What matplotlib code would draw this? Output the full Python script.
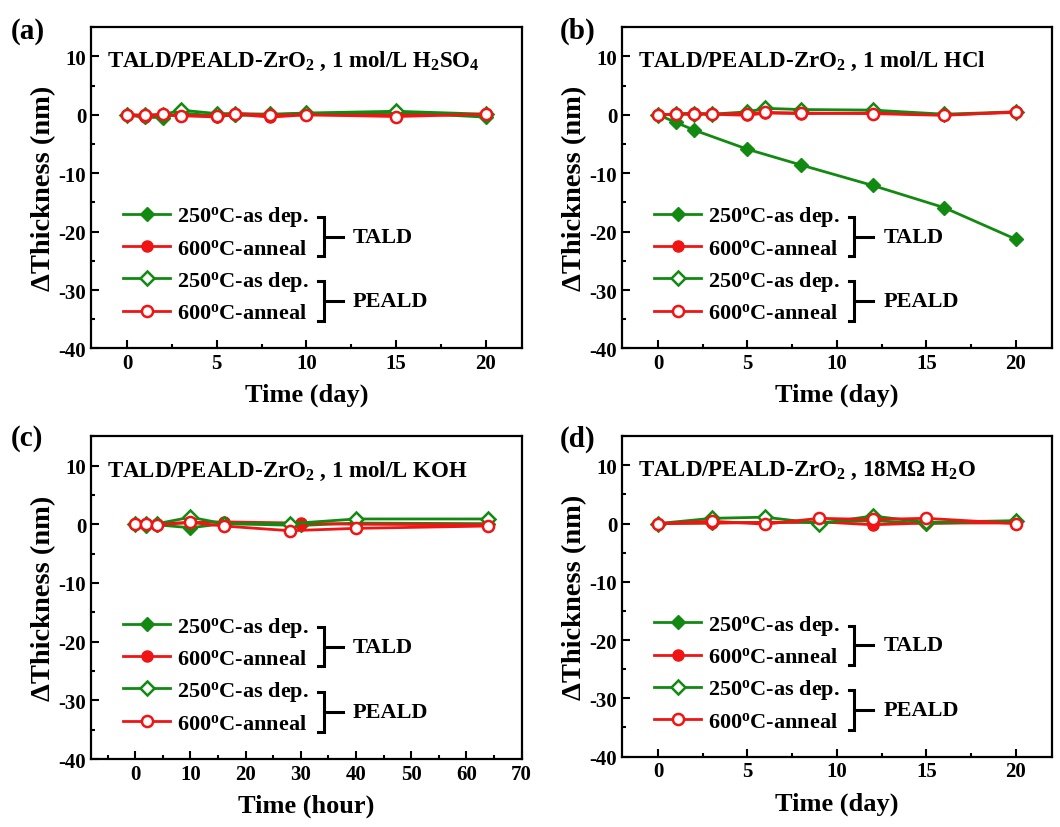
import matplotlib
matplotlib.use('Agg')
import matplotlib.pyplot as plt
from matplotlib.ticker import MultipleLocator

plt.rcParams['font.family'] = ['Liberation Serif', 'DejaVu Serif']
plt.rcParams['font.weight'] = 'bold'
plt.rcParams['axes.unicode_minus'] = False
plt.rcParams['mathtext.fontset'] = 'custom'
plt.rcParams['mathtext.rm'] = 'Liberation Serif:bold'
plt.rcParams['mathtext.bf'] = 'Liberation Serif:bold'
plt.rcParams['mathtext.it'] = 'Liberation Serif:bold'
plt.rcParams['mathtext.default'] = 'bf'

GREEN = '#128a12'
RED = '#f01414'

# (a) 1 mol/L H2SO4, time in days
a_x = [0, 1, 2, 3, 5, 6, 8, 10, 15, 20]
a_tald_250 = [0, -0.4, -0.5, 0.3, -0.2, -0.1, 0.0, 0.2, 0.4, -0.4]
a_tald_600 = [0, -0.4, -0.1, -0.1, -0.4, 0.1, -0.4, 0.0, -0.1, 0.1]
a_peald_250 = [0, -0.1, 0.0, 0.8, 0.2, 0.2, 0.1, 0.3, 0.6, 0.1]
a_peald_600 = [0, -0.1, 0.1, -0.2, -0.2, 0.2, -0.1, 0.0, -0.3, 0.1]

# (b) 1 mol/L HCl, time in days
b_x_tald_250 = [0, 1, 2, 5, 8, 12, 16, 20]
b_tald_250 = [0, -1.3, -2.6, -5.9, -8.6, -12.1, -15.9, -21.3]
b_x = [0, 1, 2, 3, 5, 6, 8, 12, 16, 20]
b_tald_600 = [0, 0.1, 0.3, 0.1, -0.1, 0.3, 0.2, 0.3, 0.0, 0.4]
b_peald_250 = [0, 0.1, 0.2, 0.1, 0.5, 1.1, 0.9, 0.8, 0.1, 0.5]
b_peald_600 = [0, 0.1, 0.1, 0.1, 0.2, 0.4, 0.3, 0.2, -0.1, 0.5]

# (c) 1 mol/L KOH, time in hours
c_x_tald = [0, 2, 4, 10, 16, 30, 40, 64]
c_tald_250 = [0, -0.3, -0.1, -0.6, 0.1, -0.2, 0.2, 0.1]
c_tald_600 = [0, 0.0, 0.1, 0.3, 0.4, 0.2, 0.0, -0.1]
c_x_peald = [0, 2, 4, 10, 16, 28, 40, 64]
c_peald_250 = [0, 0.0, 0.1, 1.2, 0.1, 0.1, 0.9, 0.9]
c_peald_600 = [0, 0.1, -0.1, 0.3, -0.3, -1.1, -0.7, -0.3]

# (d) 18 MOhm H2O, time in days
d_x = [0, 3, 6, 9, 12, 15, 20]
d_tald_250 = [0, 0.1, 0.2, 0.2, 0.5, 0.0, 0.4]
d_tald_600 = [0, 0.1, 0.2, 0.3, -0.2, 0.1, 0.1]
d_peald_250 = [0, 0.9, 1.1, 0.0, 1.3, 0.2, 0.5]
d_peald_600 = [0, 0.4, -0.1, 0.9, 0.7, 0.9, 0.0]

panels = [
    ('(a)', 'TALD/PEALD-ZrO$_2$ , 1 mol/L H$_2$SO$_4$', 'Time (day)',
     (a_x, a_tald_250), (a_x, a_tald_600), (a_x, a_peald_250), (a_x, a_peald_600)),
    ('(b)', 'TALD/PEALD-ZrO$_2$ , 1 mol/L HCl', 'Time (day)',
     (b_x_tald_250, b_tald_250), (b_x, b_tald_600), (b_x, b_peald_250), (b_x, b_peald_600)),
    ('(c)', 'TALD/PEALD-ZrO$_2$ , 1 mol/L KOH', 'Time (hour)',
     (c_x_tald, c_tald_250), (c_x_tald, c_tald_600), (c_x_peald, c_peald_250), (c_x_peald, c_peald_600)),
    ('(d)', 'TALD/PEALD-ZrO$_2$ , 18M\u03a9 H$_2$O', 'Time (day)',
     (d_x, d_tald_250), (d_x, d_tald_600), (d_x, d_peald_250), (d_x, d_peald_600)),
]

# axes boxes in figure fractions
boxes = [
    [0.086, 0.578, 0.406, 0.388],
    [0.587, 0.578, 0.405, 0.388],
    [0.086, 0.082, 0.406, 0.390],
    [0.587, 0.085, 0.405, 0.387],
]
letter_pos = [(0.010, 0.962), (0.528, 0.962), (0.010, 0.470), (0.528, 0.470)]

fig = plt.figure(figsize=(10.6, 8.28), dpi=100)

for i, (letter, title, xlabel, s1, s2, s3, s4) in enumerate(panels):
    ax = fig.add_axes(boxes[i])
    lab250 = '250$^{o}$C-as dep.'
    lab600 = '600$^{o}$C-anneal'
    ax.plot(*s1, color=GREEN, lw=2, marker='D', ms=7, mfc=GREEN, mec=GREEN, label=lab250)
    ax.plot(*s2, color=RED, lw=2, marker='o', ms=8, mfc=RED, mec=RED, label=lab600)
    ax.plot(*s3, color=GREEN, lw=2, marker='D', ms=7, mfc='white', mec=GREEN, mew=1.8, label=lab250)
    ax.plot(*s4, color=RED, lw=2, marker='o', ms=8, mfc='white', mec=RED, mew=1.8, label=lab600)

    ax.set_ylim(-40, 15)
    ax.yaxis.set_major_locator(MultipleLocator(10))
    ax.yaxis.set_minor_locator(MultipleLocator(5))
    if i == 2:
        ax.set_xlim(-8, 70)
        ax.xaxis.set_major_locator(MultipleLocator(10))
        ax.xaxis.set_minor_locator(MultipleLocator(5))
    else:
        ax.set_xlim(-2, 22)
        ax.xaxis.set_major_locator(MultipleLocator(5))
        ax.xaxis.set_minor_locator(MultipleLocator(2.5))
    ax.tick_params(which='both', direction='in', labelsize=15, width=1.5)
    ax.tick_params(which='major', length=6)
    ax.tick_params(which='minor', length=3)
    for lab in ax.get_xticklabels() + ax.get_yticklabels():
        lab.set_fontweight('bold')
    for sp in ax.spines.values():
        sp.set_linewidth(1.6)

    ax.set_xlabel(xlabel, fontsize=19, fontweight='bold', labelpad=7)
    ax.set_ylabel('\u0394Thickness (nm)', fontsize=20.5, fontweight='bold', labelpad=2)
    ax.text(0.037, 0.895, title, transform=ax.transAxes, fontsize=16.5,
            fontweight='bold', va='center', ha='left')

    leg = ax.legend(loc='center left', bbox_to_anchor=(0.075, 0.263), frameon=False,
                    fontsize=16, handlelength=2.1, handletextpad=0.3,
                    labelspacing=0.45, borderpad=0, borderaxespad=0)
    for t in leg.get_texts():
        t.set_fontweight('bold')

    # group brackets
    bx = 0.54
    for (y0, y1), name in [((0.287, 0.408), 'TALD'), ((0.084, 0.209), 'PEALD')]:
        ym = (y0 + y1) / 2
        ax.plot([bx - 0.012, bx, bx, bx - 0.012], [y1, y1, y0, y0], color='black',
                lw=2.2, transform=ax.transAxes, clip_on=False, solid_joinstyle='miter')
        ax.plot([bx, bx + 0.045], [ym, ym], color='black', lw=2.2, transform=ax.transAxes)
        ax.text(0.608, ym, name, transform=ax.transAxes, fontsize=16,
                fontweight='bold', va='center', ha='left')

    fig.text(letter_pos[i][0], letter_pos[i][1], letter, fontsize=21,
             fontweight='bold', va='center', ha='left')

fig.savefig('out.png', dpi=100)
